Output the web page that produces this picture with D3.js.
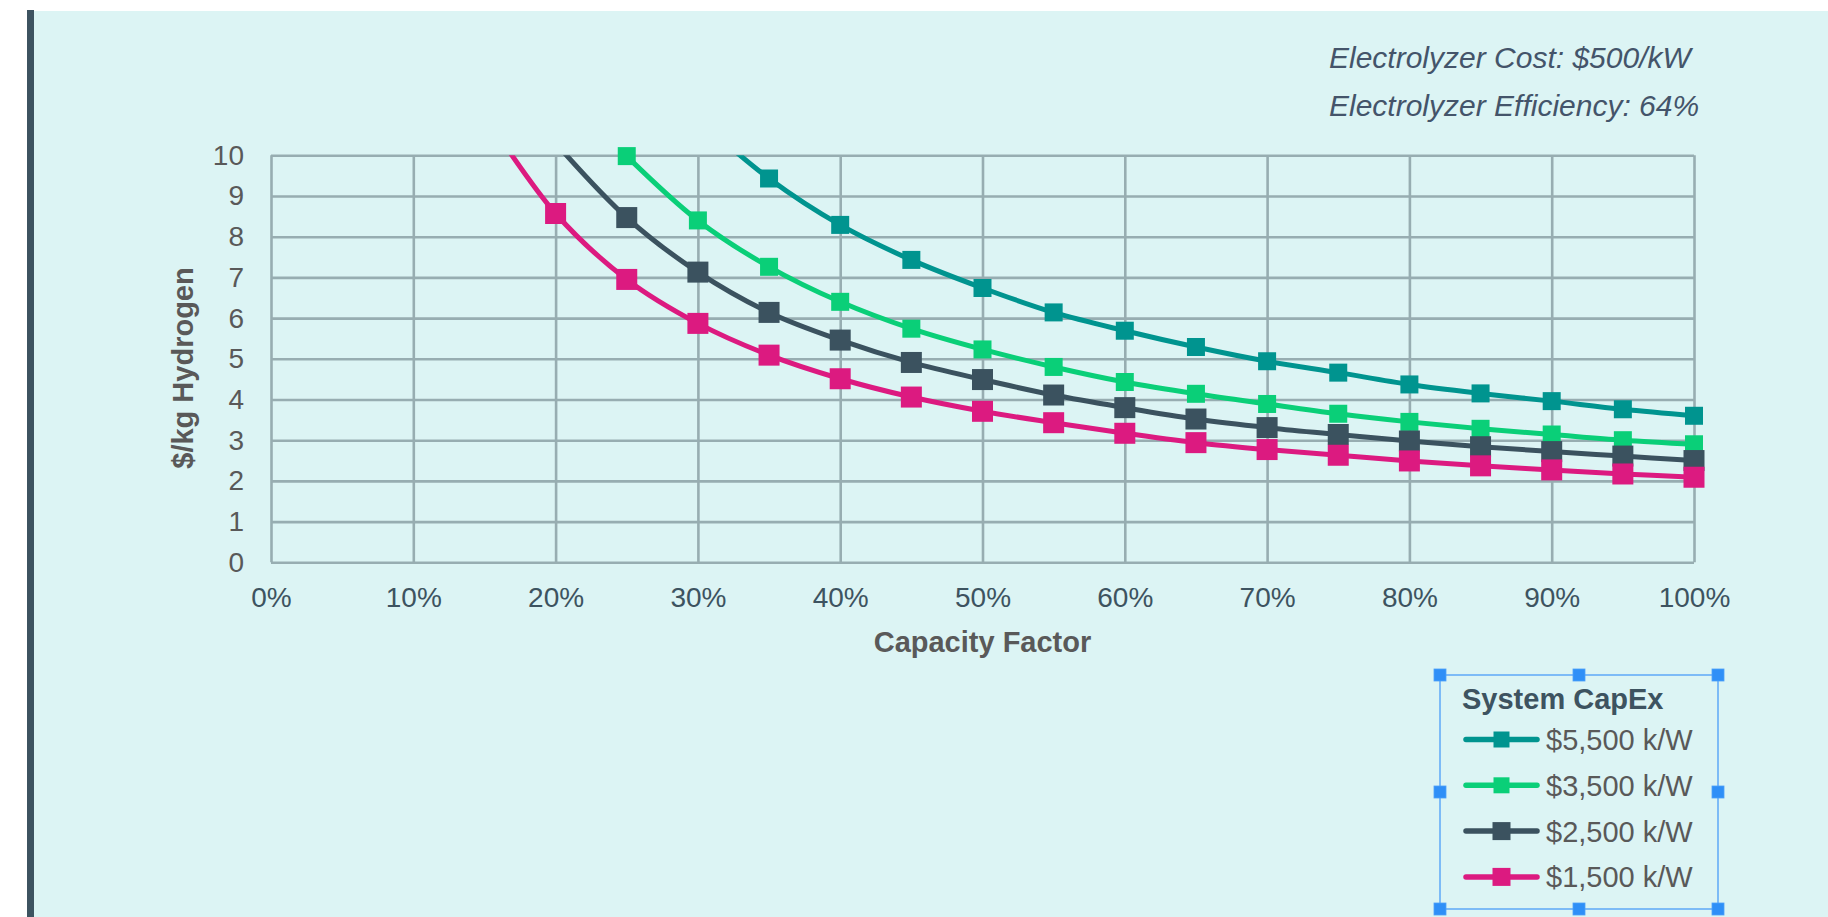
<!DOCTYPE html>
<html>
<head>
<meta charset="utf-8">
<script src="https://cdn.jsdelivr.net/npm/d3@7"></script>
<style>
  html, body { margin: 0; padding: 0; background: #ffffff; }
  svg { display: block; }
</style>
</head>
<body>
<svg id="chart" width="1828" height="917"></svg>
<script>
// ---------------- DATA ----------------
const capacityFactors = [0.15, 0.20, 0.25, 0.30, 0.35, 0.40, 0.45, 0.50, 0.55, 0.60, 0.65, 0.70, 0.75, 0.80, 0.85, 0.90, 0.95, 1.00];
const seriesNames = ["$5,500 k/W", "$3,500 k/W", "$2,500 k/W", "$1,500 k/W"];
const capex5500 = [null, null, null, 10.9, 9.43, 8.29, 7.43, 6.74, 6.14, 5.69, 5.29, 4.94, 4.66, 4.37, 4.15, 3.96, 3.76, 3.60];
const capex3500 = [null, null, 9.98, 8.40, 7.26, 6.40, 5.74, 5.23, 4.80, 4.43, 4.14, 3.89, 3.65, 3.45, 3.28, 3.14, 3.00, 2.90];
const capex2500 = [null, 10.3, 8.47, 7.13, 6.14, 5.46, 4.91, 4.49, 4.11, 3.80, 3.52, 3.31, 3.14, 2.98, 2.84, 2.72, 2.61, 2.50];
const capex1500 = [11.0, 8.57, 6.95, 5.87, 5.09, 4.51, 4.06, 3.71, 3.43, 3.17, 2.94, 2.77, 2.63, 2.49, 2.37, 2.27, 2.17, 2.09];
const xTickValues = [0, 0.1, 0.2, 0.3, 0.4, 0.5, 0.6, 0.7, 0.8, 0.9, 1.0];
const yTickValues = [0, 1, 2, 3, 4, 5, 6, 7, 8, 9, 10];
const annotationLines = ["Electrolyzer Cost: $500/kW", "Electrolyzer Efficiency: 64%"];
const legendTitle = "System CapEx";
const xAxisTitle = "Capacity Factor";
const yAxisTitle = "$/kg Hydrogen";

// ---------------- STYLE ----------------
const colors = ["#00948f", "#0acf78", "#3b525f", "#dc1a80"];
const markerSizes = [18, 18, 21, 21];
const legendMarkerSizes = [16, 16, 18, 18];
const FONT = "'Liberation Sans', Arial, Helvetica, sans-serif";
const gridColor = "#97adb1";

const plot = { left: 271, right: 1694, top: 155.3, bottom: 562.3 };

const svg = d3.select("#chart");

// background
svg.append("rect").attr("x", 0).attr("y", 0).attr("width", 1828).attr("height", 917).attr("fill", "#ffffff");
svg.append("rect").attr("x", 34).attr("y", 11).attr("width", 1794).attr("height", 906).attr("fill", "#dcf4f4");
svg.append("rect").attr("x", 27).attr("y", 10).attr("width", 7).attr("height", 907).attr("fill", "#3d5360");

// scales
const x = d3.scaleLinear().domain([0, 1]).range([plot.left, plot.right]);
const y = d3.scaleLinear().domain([0, 10]).range([plot.bottom, plot.top]);

const plotW = plot.right - plot.left;
const plotH = plot.bottom - plot.top;

// axes with gridlines
const xAxis = d3.axisBottom(x)
  .tickValues(xTickValues)
  .tickFormat(d3.format(".0%"))
  .tickSizeInner(-plotH)
  .tickSizeOuter(0)
  .tickPadding(25);

const yAxis = d3.axisLeft(y)
  .tickValues(yTickValues)
  .tickFormat(d3.format("d"))
  .tickSizeInner(-plotW)
  .tickSizeOuter(0)
  .tickPadding(27);

const gx = svg.append("g").attr("transform", `translate(0,${plot.bottom})`).call(xAxis);
const gy = svg.append("g").attr("transform", `translate(${plot.left},0)`).call(yAxis);

[gx, gy].forEach(g => {
  g.select(".domain").remove();
  g.selectAll(".tick line").attr("stroke", gridColor).attr("stroke-width", 2.6);
  g.selectAll(".tick text").attr("font-family", FONT).attr("font-size", 28);
});
gx.selectAll(".tick text").attr("fill", "#3d5360");
gy.selectAll(".tick text").attr("fill", "#595959");

// axis titles
svg.append("text")
  .attr("x", (plot.left + plot.right) / 2)
  .attr("y", 652)
  .attr("text-anchor", "middle")
  .attr("font-family", FONT)
  .attr("font-size", 29)
  .attr("font-weight", "bold")
  .attr("fill", "#595959")
  .text(xAxisTitle);

svg.append("text")
  .attr("transform", "translate(193,368) rotate(-90)")
  .attr("text-anchor", "middle")
  .attr("font-family", FONT)
  .attr("font-size", 29)
  .attr("font-weight", "bold")
  .attr("fill", "#595959")
  .text(yAxisTitle);

// annotation
svg.selectAll(".annot")
  .data(annotationLines)
  .enter().append("text")
  .attr("class", "annot")
  .attr("x", 1329)
  .attr("y", (d, i) => 68 + i * 48)
  .attr("font-family", FONT)
  .attr("font-size", 30)
  .attr("font-style", "italic")
  .attr("fill", "#44546a")
  .text(d => d);

// clip for lines
svg.append("defs").append("clipPath").attr("id", "plotClip")
  .append("rect")
  .attr("x", plot.left - 20).attr("y", plot.top)
  .attr("width", plotW + 60).attr("height", plotH + 40);

const allSeries = [capex5500, capex3500, capex2500, capex1500].map((vals, i) => ({
  name: seriesNames[i],
  color: colors[i],
  size: markerSizes[i],
  points: capacityFactors.map((cf, j) => ({ cf, v: vals[j] }))
}));

const line = d3.line()
  .defined(d => d.v != null)
  .x(d => x(d.cf))
  .y(d => y(d.v))
  .curve(d3.curveCatmullRom.alpha(0.5));

allSeries.forEach(s => {
  const g = svg.append("g");
  g.append("path")
    .attr("clip-path", "url(#plotClip)")
    .attr("d", line(s.points.filter(d => d.v != null)))
    .attr("fill", "none")
    .attr("stroke", s.color)
    .attr("stroke-width", 5)
    .attr("stroke-linejoin", "round")
    .attr("stroke-linecap", "round");
  g.selectAll("rect")
    .data(s.points.filter(d => d.v != null && d.v <= 10))
    .enter().append("rect")
    .attr("x", d => x(d.cf) - s.size / 2)
    .attr("y", d => y(d.v) - s.size / 2)
    .attr("width", s.size)
    .attr("height", s.size)
    .attr("fill", s.color);
});

// legend
const lg = svg.append("g");
const box = { x0: 1440, y0: 675, x1: 1718, y1: 909 };
lg.append("rect")
  .attr("x", box.x0).attr("y", box.y0)
  .attr("width", box.x1 - box.x0).attr("height", box.y1 - box.y0)
  .attr("fill", "none")
  .attr("stroke", "#5ea8f7")
  .attr("stroke-width", 1.5);

lg.append("text")
  .attr("x", 1462).attr("y", 709)
  .attr("font-family", FONT).attr("font-size", 29).attr("font-weight", "bold")
  .attr("fill", "#3d5360")
  .text(legendTitle);

allSeries.forEach((s, i) => {
  const cy = 739.5 + i * 45.8;
  lg.append("line")
    .attr("x1", 1466).attr("x2", 1537)
    .attr("y1", cy).attr("y2", cy)
    .attr("stroke", s.color).attr("stroke-width", 5.5)
    .attr("stroke-linecap", "round");
  const ms = legendMarkerSizes[i];
  lg.append("rect")
    .attr("x", 1501.5 - ms / 2).attr("y", cy - ms / 2)
    .attr("width", ms).attr("height", ms)
    .attr("fill", s.color);
  lg.append("text")
    .attr("x", 1546).attr("y", cy + 10.5)
    .attr("font-family", FONT).attr("font-size", 29)
    .attr("fill", "#595959")
    .text(s.name);
});

// selection handles
const hx = [box.x0, (box.x0 + box.x1) / 2, box.x1];
const hy = [box.y0, (box.y0 + box.y1) / 2, box.y1];
const handles = [];
hx.forEach((hxv, i) => hy.forEach((hyv, j) => {
  if (!(i === 1 && j === 1)) handles.push([hxv, hyv]);
}));
lg.selectAll(".handle")
  .data(handles)
  .enter().append("rect")
  .attr("class", "handle")
  .attr("x", d => d[0] - 6).attr("y", d => d[1] - 6)
  .attr("width", 12).attr("height", 12)
  .attr("fill", "#2f8ff7")
  .attr("stroke", "#4da0fa")
  .attr("stroke-width", 0.8);
</script>
</body>
</html>
